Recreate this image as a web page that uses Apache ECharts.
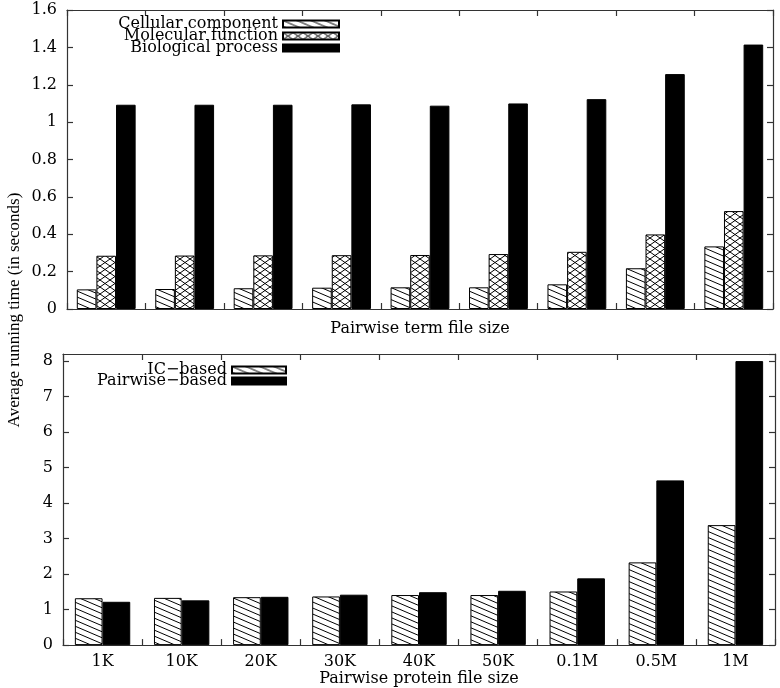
<!DOCTYPE html>
<html>
<head>
<meta charset="utf-8">
<script src="https://cdn.jsdelivr.net/npm/echarts@6/dist/echarts.min.js"></script>
<style>
html, body { margin: 0; padding: 0; background: #fff; }
#chart { width: 780px; height: 688px; }
</style>
</head>
<body>
<div id="chart"></div>
<script>
// top panel (pairwise term file size, no tick labels in the figure)
const termSizes = ['1K', '10K', '20K', '30K', '40K', '50K', '0.1M', '0.5M', '1M'];
const cellular = [0.105, 0.107, 0.111, 0.114, 0.116, 0.116, 0.132, 0.218, 0.335];
const molecular = [0.285, 0.286, 0.287, 0.288, 0.289, 0.294, 0.306, 0.399, 0.524];
const biological = [1.093, 1.093, 1.093, 1.095, 1.088, 1.100, 1.123, 1.257, 1.415];

// bottom panel (pairwise protein file size)
const proteinSizes = ['1K', '10K', '20K', '30K', '40K', '50K', '0.1M', '0.5M', '1M'];
const icBased = [1.32, 1.33, 1.35, 1.37, 1.41, 1.41, 1.51, 2.33, 3.38];
const pairwiseBased = [1.22, 1.26, 1.36, 1.42, 1.49, 1.53, 1.88, 4.64, 8.0];

const serif = 'DejaVu Serif';
const lineCol = '#333';

// gnuplot-like fill patterns
function hatch(w, h, cross) {
  const c = document.createElement('canvas');
  c.width = w; c.height = h;
  const g = c.getContext('2d');
  g.fillStyle = '#fff';
  g.fillRect(0, 0, w, h);
  g.strokeStyle = '#000';
  g.lineWidth = 1;
  g.beginPath();
  for (let n = -1; n <= 1; n++) {
    g.moveTo(0, n * h); g.lineTo(w, n * h + h);
    if (cross) { g.moveTo(0, n * h + h); g.lineTo(w, n * h); }
  }
  g.stroke();
  return { image: c, repeat: 'repeat' };
}
const diag = hatch(14, 6, false);
const crossed = hatch(10, 7, true);

const axisLine = { show: true, onZero: false, lineStyle: { color: lineCol, width: 1.2 } };
const tick = { show: true, inside: true, length: 6, lineStyle: { color: lineCol, width: 1.2 } };

function xAx(grid, pos, data, name, labels, gap) {
  return {
    type: 'category', gridIndex: grid, position: pos, data: data,
    axisLine: axisLine, axisTick: tick,
    axisLabel: { show: labels, margin: 9, fontFamily: serif, fontSize: 16, color: '#000' },
    splitLine: { show: false },
    name: name, nameLocation: 'middle', nameGap: gap,
    nameTextStyle: { fontFamily: serif, fontSize: 16, color: '#000' }
  };
}
function yAx(grid, pos, max, step, labels) {
  return {
    type: 'value', gridIndex: grid, position: pos, min: 0, max: max, interval: step,
    axisLine: axisLine, axisTick: tick, splitLine: { show: false },
    axisLabel: { show: labels, margin: 10, fontFamily: serif, fontSize: 16, color: '#000', showMaxLabel: max === 1.6 }
  };
}
function bar(name, data, xi, yi, fill, width) {
  return {
    name: name, type: 'bar', xAxisIndex: xi, yAxisIndex: yi, data: data,
    barWidth: width, barGap: '0%',
    itemStyle: { color: fill, borderColor: '#000', borderWidth: 1 }
  };
}
const legendText = { fontFamily: serif, fontSize: 16, color: '#000' };

const chart = echarts.init(document.getElementById('chart'));
chart.setOption({
  animation: false,
  backgroundColor: '#fff',
  grid: [
    { left: 67, top: 10, width: 706, height: 299 },
    { left: 63, top: 354, width: 712, height: 292.5 }
  ],
  xAxis: [
    xAx(0, 'bottom', termSizes, 'Pairwise term file size', false, 12),
    xAx(0, 'top', termSizes, '', false, 0),
    xAx(1, 'bottom', proteinSizes, 'Pairwise protein file size', true, 20),
    xAx(1, 'top', proteinSizes, '', false, 0)
  ],
  yAxis: [
    yAx(0, 'left', 1.6, 0.2, true),
    yAx(0, 'right', 1.6, 0.2, false),
    yAx(1, 'left', 8.2, 1, true),
    yAx(1, 'right', 8.2, 1, false)
  ],
  legend: [
    {
      data: ['Cellular component', 'Molecular function', 'Biological process'],
      orient: 'vertical', align: 'right', right: 440, top: 16, padding: 0,
      itemWidth: 56, itemHeight: 7, itemGap: -4, icon: 'rect',
      textStyle: legendText, selectedMode: false
    },
    {
      data: ['IC\u2212based', 'Pairwise\u2212based'],
      orient: 'vertical', align: 'right', right: 493, top: 362, padding: 0,
      itemWidth: 54, itemHeight: 7, itemGap: -5, icon: 'rect',
      textStyle: legendText, selectedMode: false
    }
  ],
  graphic: [{
    type: 'text', x: 15, y: 310, rotation: Math.PI / 2,
    style: {
      text: 'Average running time (in seconds)', fill: '#000',
      font: '17px "Liberation Serif"', align: 'center', verticalAlign: 'middle'
    }
  }],
  series: [
    bar('Cellular component', cellular, 0, 0, diag, '25%'),
    bar('Molecular function', molecular, 0, 0, crossed, '25%'),
    bar('Biological process', biological, 0, 0, '#000', '25%'),
    bar('IC\u2212based', icBased, 2, 2, diag, '35%'),
    bar('Pairwise\u2212based', pairwiseBased, 2, 2, '#000', '35%')
  ]
});
</script>
</body>
</html>
